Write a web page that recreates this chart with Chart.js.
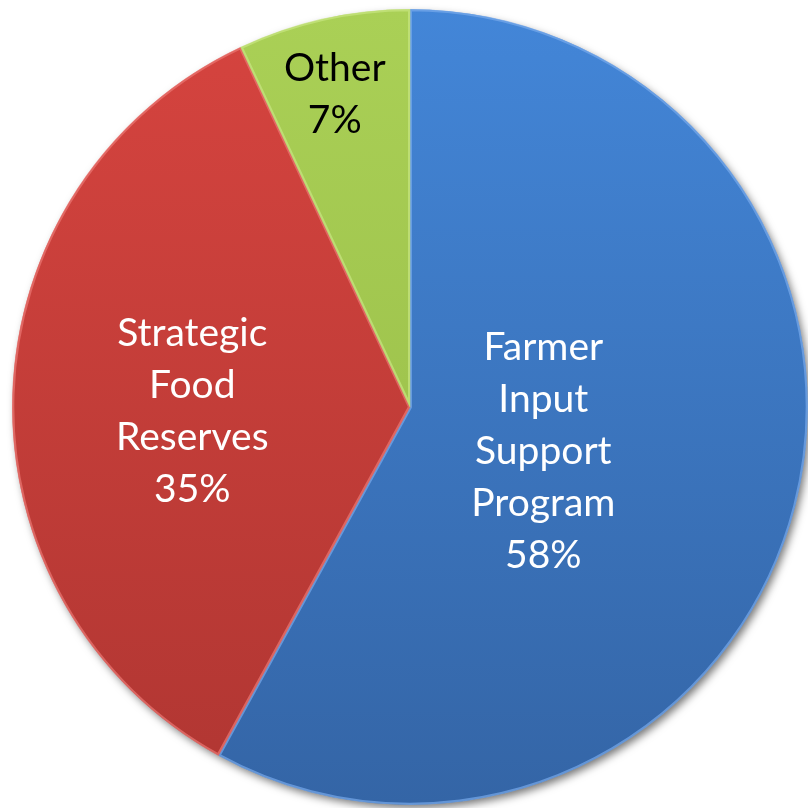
<!DOCTYPE html>
<html>
<head>
<meta charset="utf-8">
<script src="https://cdn.jsdelivr.net/npm/chart.js@4/dist/chart.umd.min.js"></script>
<style>
  html, body { margin: 0; padding: 0; background: #fff; }
  #wrap { width: 808px; height: 808px; position: relative; }
</style>
</head>
<body>
<div id="wrap"><canvas id="pie"></canvas></div>
<script>
const categories = ["Farmer Input Support Program", "Strategic Food Reserves", "Other"];
const shares = [58, 35, 7];
const labelLines = [
  ["Farmer", "Input", "Support", "Program", "58%"],
  ["Strategic", "Food", "Reserves", "35%"],
  ["Other", "7%"]
];

// top / bottom colours of each slice's gradient
const topColors = ["#4386d8", "#d6443f", "#aad056"];
const bottomColors = ["#3465a6", "#b03632", "#95b945"];
const edgeColors = ["rgba(120,170,235,0.7)", "rgba(235,120,115,0.7)", "rgba(200,230,130,0.7)"];
const textColors = ["#ffffff", "#ffffff", "#000000"];
// label centre relative to the pie centre, in radius units
const labelOffset = [[0.335, 0.111], [-0.547, 0.01], [-0.189, -0.786]];

function sliceFill(ctx) {
  const area = ctx.chart.chartArea;
  if (!area) return topColors[ctx.dataIndex];
  const g = ctx.chart.ctx.createLinearGradient(0, area.top, 0, area.bottom);
  g.addColorStop(0, topColors[ctx.dataIndex]);
  g.addColorStop(1, bottomColors[ctx.dataIndex]);
  return g;
}

const shadowPlugin = {
  id: "shadow",
  beforeDatasetsDraw(chart) {
    const arc = chart.getDatasetMeta(0).data[0];
    if (!arc) return;
    const c = chart.ctx;
    c.save();
    c.shadowColor = "rgba(0,0,0,0.55)";
    c.shadowBlur = 9;
    c.shadowOffsetX = 3;
    c.shadowOffsetY = 4;
    c.fillStyle = "#555";
    c.beginPath();
    c.arc(arc.x, arc.y, arc.outerRadius - 1, 0, Math.PI * 2);
    c.fill();
    c.restore();
  }
};

const labelPlugin = {
  id: "sliceLabels",
  afterDatasetsDraw(chart) {
    const c = chart.ctx;
    const lineH = 52;
    chart.getDatasetMeta(0).data.forEach((arc, i) => {
      const x = arc.x + labelOffset[i][0] * arc.outerRadius;
      const y = arc.y + labelOffset[i][1] * arc.outerRadius;
      const lines = labelLines[i];
      c.save();
      c.font = "39px Lato";
      c.fillStyle = textColors[i];
      c.textAlign = "center";
      c.textBaseline = "middle";
      lines.forEach((t, k) => {
        c.fillText(t, x, y + (k - (lines.length - 1) / 2) * lineH);
      });
      c.restore();
    });
  }
};

new Chart(document.getElementById("pie"), {
  type: "pie",
  data: {
    labels: categories,
    datasets: [{
      data: shares,
      backgroundColor: sliceFill,
      borderColor: edgeColors,
      borderWidth: 2,
      borderAlign: "inner"
    }]
  },
  options: {
    responsive: true,
    maintainAspectRatio: false,
    animation: false,
    layout: { padding: { left: 12, top: 9, right: 0, bottom: 3 } },
    plugins: {
      legend: { display: false },
      tooltip: { enabled: false }
    }
  },
  plugins: [shadowPlugin, labelPlugin]
});
</script>
</body>
</html>
